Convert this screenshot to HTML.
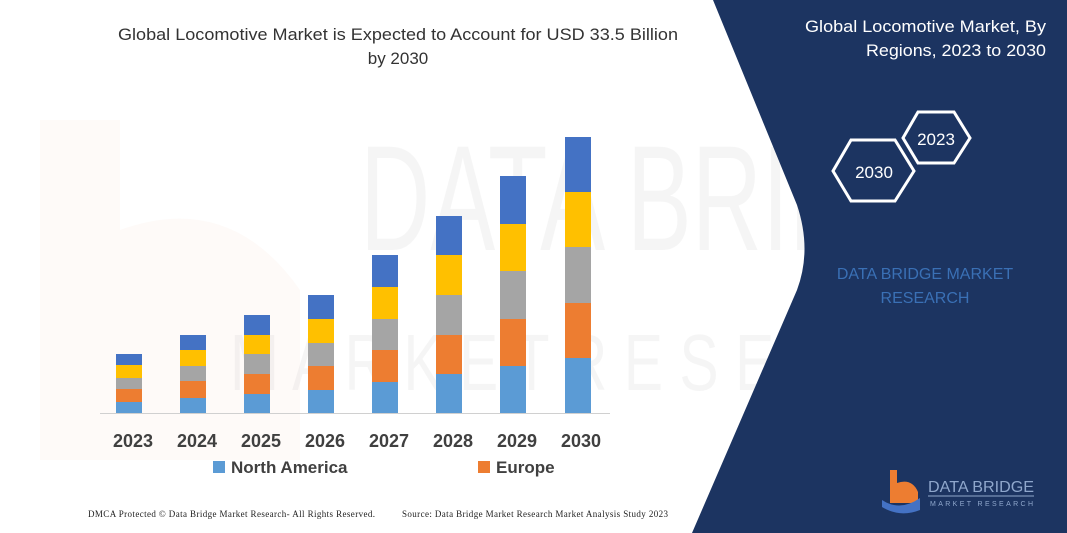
<!DOCTYPE html>
<html><head><meta charset="utf-8"><style>
body{margin:0;width:1067px;height:533px;overflow:hidden;background:#fff;font-family:"Liberation Sans",sans-serif;}
svg{display:block}
</style></head><body>
<svg width="1067" height="533" viewBox="0 0 1067 533" xmlns="http://www.w3.org/2000/svg">
<rect width="1067" height="533" fill="#fff"/>
<!-- faint watermark -->
<g opacity="0.035">
<path d="M40,120 L120,120 L120,230 Q230,190 300,290 L300,460 L40,460 Z" fill="#ED7D31"/>
</g>
<g opacity="0.05">
<text x="360" y="250" font-size="150" fill="#555" font-family="Liberation Sans" textLength="640" lengthAdjust="spacingAndGlyphs">DATA BRIDGE</text>
<text x="230" y="390" font-size="80" fill="#555" font-family="Liberation Sans" textLength="770" lengthAdjust="spacingAndGlyphs">M A R K E T   R E S E A R C H</text>
</g>
<!-- navy panel -->
<path d="M713,0 L1067,0 L1067,533 L692,533 L797,290 Q812,250 797,205 Z" fill="#1C3461"/>
<!-- title -->
<text x="398" y="40" text-anchor="middle" font-size="17" fill="#333" textLength="560" lengthAdjust="spacingAndGlyphs">Global Locomotive Market is Expected to Account for USD 33.5 Billion</text>
<text x="398" y="64" text-anchor="middle" font-size="17" fill="#333">by 2030</text>
<!-- axis -->
<line x1="100" y1="413.5" x2="610" y2="413.5" stroke="#d0d0d0" stroke-width="1"/>
<!-- bars -->
<g>
<rect x="116" y="402" width="26" height="11" fill="#5B9BD5"/><rect x="116" y="389" width="26" height="13" fill="#ED7D31"/><rect x="116" y="378" width="26" height="11" fill="#A5A5A5"/><rect x="116" y="365" width="26" height="13" fill="#FFC000"/><rect x="116" y="354" width="26" height="11" fill="#4472C4"/>
<rect x="180" y="398" width="26" height="15" fill="#5B9BD5"/><rect x="180" y="381" width="26" height="17" fill="#ED7D31"/><rect x="180" y="366" width="26" height="15" fill="#A5A5A5"/><rect x="180" y="350" width="26" height="16" fill="#FFC000"/><rect x="180" y="335" width="26" height="15" fill="#4472C4"/>
<rect x="244" y="394" width="26" height="19" fill="#5B9BD5"/><rect x="244" y="374" width="26" height="20" fill="#ED7D31"/><rect x="244" y="354" width="26" height="20" fill="#A5A5A5"/><rect x="244" y="335" width="26" height="19" fill="#FFC000"/><rect x="244" y="315" width="26" height="20" fill="#4472C4"/>
<rect x="308" y="390" width="26" height="23" fill="#5B9BD5"/><rect x="308" y="366" width="26" height="24" fill="#ED7D31"/><rect x="308" y="343" width="26" height="23" fill="#A5A5A5"/><rect x="308" y="319" width="26" height="24" fill="#FFC000"/><rect x="308" y="295" width="26" height="24" fill="#4472C4"/>
<rect x="372" y="382" width="26" height="31" fill="#5B9BD5"/><rect x="372" y="350" width="26" height="32" fill="#ED7D31"/><rect x="372" y="319" width="26" height="31" fill="#A5A5A5"/><rect x="372" y="287" width="26" height="32" fill="#FFC000"/><rect x="372" y="255" width="26" height="32" fill="#4472C4"/>
<rect x="436" y="374" width="26" height="39" fill="#5B9BD5"/><rect x="436" y="335" width="26" height="39" fill="#ED7D31"/><rect x="436" y="295" width="26" height="40" fill="#A5A5A5"/><rect x="436" y="255" width="26" height="40" fill="#FFC000"/><rect x="436" y="216" width="26" height="39" fill="#4472C4"/>
<rect x="500" y="366" width="26" height="47" fill="#5B9BD5"/><rect x="500" y="319" width="26" height="47" fill="#ED7D31"/><rect x="500" y="271" width="26" height="48" fill="#A5A5A5"/><rect x="500" y="224" width="26" height="47" fill="#FFC000"/><rect x="500" y="176" width="26" height="48" fill="#4472C4"/>
<rect x="565" y="358" width="26" height="55" fill="#5B9BD5"/><rect x="565" y="303" width="26" height="55" fill="#ED7D31"/><rect x="565" y="247" width="26" height="56" fill="#A5A5A5"/><rect x="565" y="192" width="26" height="55" fill="#FFC000"/><rect x="565" y="137" width="26" height="55" fill="#4472C4"/>
</g>
<g font-size="18" font-weight="bold" fill="#404040" text-anchor="middle">
<text x="133" y="447">2023</text><text x="197" y="447">2024</text><text x="261" y="447">2025</text><text x="325" y="447">2026</text><text x="389" y="447">2027</text><text x="453" y="447">2028</text><text x="517" y="447">2029</text><text x="581" y="447">2030</text>
</g>
<rect x="213" y="461" width="12" height="12" fill="#5B9BD5"/>
<text x="231" y="473" font-size="17" font-weight="bold" fill="#404040">North America</text>
<rect x="478" y="461" width="12" height="12" fill="#ED7D31"/>
<text x="496" y="473" font-size="17" font-weight="bold" fill="#404040">Europe</text>
<text x="88" y="517" font-size="9" fill="#222" font-family="Liberation Serif" textLength="287" lengthAdjust="spacing">DMCA Protected © Data Bridge Market Research-  All Rights Reserved.</text>
<text x="402" y="517" font-size="9" fill="#222" font-family="Liberation Serif" textLength="266" lengthAdjust="spacing">Source: Data Bridge Market Research  Market Analysis Study 2023</text>
<!-- right panel -->
<text x="1046" y="32" text-anchor="end" font-size="17" fill="#fff" textLength="241" lengthAdjust="spacingAndGlyphs">Global Locomotive Market, By</text>
<text x="1046" y="56" text-anchor="end" font-size="17" fill="#fff" textLength="180" lengthAdjust="spacingAndGlyphs">Regions, 2023 to 2030</text>
<polygon points="918,112 954,112 970,138 954,163 918,163 903,138" fill="none" stroke="#fff" stroke-width="3"/>
<text x="936" y="145" text-anchor="middle" font-size="17" fill="#fff">2023</text>
<polygon points="851,140 895,140 914,171 895,201 851,201 833,171" fill="none" stroke="#fff" stroke-width="3"/>
<text x="874" y="178" text-anchor="middle" font-size="17" fill="#fff">2030</text>
<text x="925" y="279" text-anchor="middle" font-size="16" fill="#3A70B5">DATA BRIDGE MARKET</text>
<text x="925" y="303" text-anchor="middle" font-size="16" fill="#3A70B5">RESEARCH</text>
<!-- logo -->
<path d="M890,470 L897,470 L897,483 Q912,478 918,492 L918,503 L890,503 Z" fill="#ED7D31"/>
<path d="M882,500 Q900,512 920,498 L920,510 Q900,518 882,507 Z" fill="#4472C4"/>
<text x="928" y="492" font-size="16" fill="#8FA7CC" textLength="106" lengthAdjust="spacingAndGlyphs">DATA BRIDGE</text>
<line x1="928" y1="496" x2="1034" y2="496" stroke="#8FA7CC" stroke-width="1"/>
<text x="930" y="506" font-size="7" fill="#8FA7CC" textLength="103" lengthAdjust="spacing">MARKET RESEARCH</text>
</svg>
</body></html>
